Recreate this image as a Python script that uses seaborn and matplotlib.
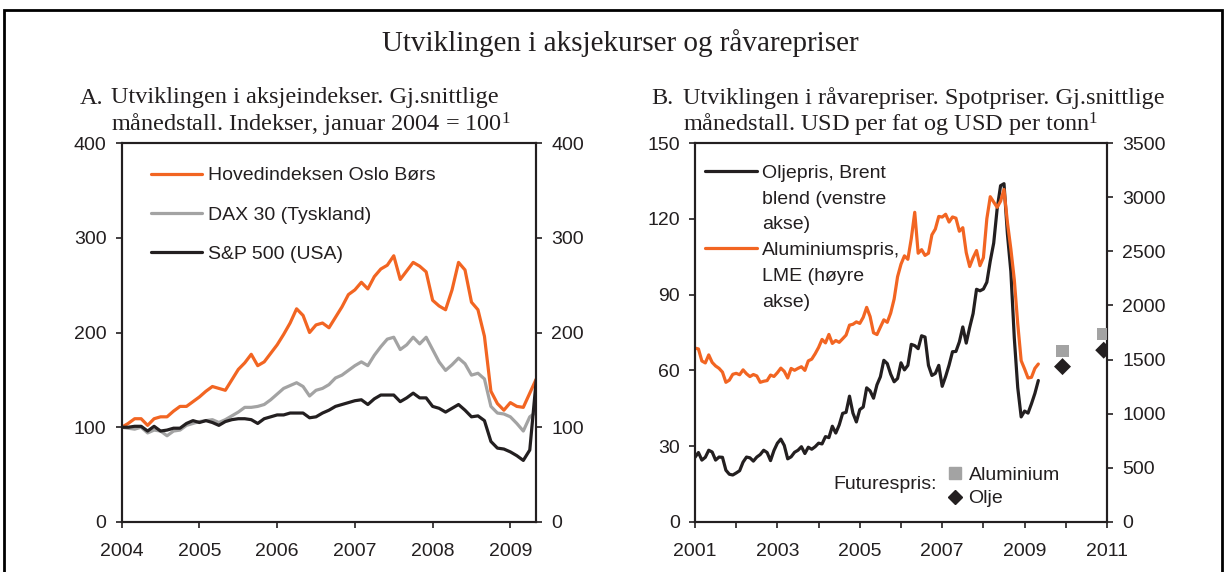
import numpy as np
import pandas as pd
import matplotlib
matplotlib.use("Agg")
import matplotlib.pyplot as plt
import seaborn as sns
from matplotlib.lines import Line2D
from matplotlib.patches import Rectangle

# ---------------- data ----------------
# Panel A: monthly, Jan 2004 - May 2009, index Jan 2004 = 100
oslo = [100, 104, 109, 109, 102, 109, 111, 111, 117, 122, 122, 127,
        132, 138, 143, 141, 139, 150, 161, 168, 177, 165, 169, 178,
        187, 198, 210, 225, 218, 200, 208, 210, 205, 216, 227, 240,
        245, 253, 246, 259, 267, 271, 281, 256, 265, 274, 270, 264,
        234, 228, 224, 245, 274, 266, 232, 224, 196, 138, 125, 118,
        126, 122, 121, 136, 151]
dax = [100, 99, 98, 100, 94, 97, 96, 91, 96, 97, 102, 104,
       106, 107, 108, 105, 108, 112, 116, 121, 121, 122, 124, 129,
       135, 141, 144, 147, 143, 133, 139, 141, 145, 152, 155, 160,
       165, 169, 165, 176, 185, 193, 195, 182, 187, 195, 188, 195,
       182, 169, 160, 166, 173, 167, 155, 157, 151, 122, 115, 114,
       111, 104, 96, 111, 116]
sp500 = [100, 100, 101, 101, 96, 101, 96, 97, 99, 99, 104, 107,
         105, 107, 105, 102, 106, 108, 109, 109, 108, 104, 109, 111,
         113, 113, 115, 115, 115, 110, 111, 115, 118, 122, 124, 126,
         128, 129, 124, 130, 134, 134, 134, 127, 131, 136, 131, 131,
         122, 120, 116, 120, 124, 118, 111, 112, 107, 85, 78, 77,
         74, 70, 65, 76, 150]
years_a = [2004, 2005, 2006, 2007, 2008, 2009]
yticks_a = [0, 100, 200, 300, 400]

# Panel B: monthly, Jan 2001 - May 2009
brent = [25.6, 27.5, 24.5, 25.6, 28.4, 27.7, 24.5, 25.7, 25.6, 20.5, 18.9, 18.6,
         19.4, 20.3, 23.7, 25.7, 25.4, 24.1, 25.7, 26.7, 28.4, 27.5, 24.3, 28.3,
         31.2, 32.8, 30.3, 25.0, 25.8, 27.6, 28.4, 29.8, 27.1, 29.6, 28.8, 29.8,
         31.2, 30.9, 33.8, 33.4, 37.9, 35.2, 38.4, 43.0, 43.4, 49.8, 43.1, 39.6,
         44.5, 45.5, 53.1, 51.9, 49.0, 54.3, 57.5, 64.0, 62.7, 58.5, 55.5, 56.8,
         63.0, 60.2, 62.0, 70.3, 69.8, 68.6, 73.7, 73.2, 62.0, 58.0, 58.8, 62.0,
         53.7, 57.6, 62.1, 67.4, 67.5, 71.3, 77.2, 70.8, 77.0, 82.5, 92.1, 91.5,
         92.2, 94.9, 103.3, 110.4, 123.9, 133.1, 133.9, 113.9, 99.1, 72.8, 53.2, 41.6,
         43.9, 43.1, 46.8, 50.9, 56.0]
aluminium = [1606, 1598, 1487, 1469, 1543, 1474, 1441, 1419, 1384, 1290, 1310, 1364,
             1373, 1360, 1405, 1369, 1343, 1362, 1349, 1290, 1300, 1306, 1357, 1344,
             1379, 1421, 1391, 1330, 1418, 1401, 1419, 1434, 1400, 1488, 1504, 1554,
             1612, 1686, 1654, 1732, 1649, 1676, 1659, 1692, 1726, 1818, 1826, 1848,
             1834, 1890, 1982, 1897, 1747, 1731, 1800, 1867, 1844, 1930, 2059, 2265,
             2381, 2458, 2426, 2618, 2860, 2482, 2515, 2462, 2482, 2652, 2705, 2822,
             2816, 2842, 2770, 2817, 2806, 2685, 2718, 2488, 2359, 2441, 2507, 2367,
             2441, 2800, 3004, 2955, 2906, 2962, 3071, 2766, 2520, 2238, 1831, 1490,
             1413, 1330, 1336, 1419, 1459]
fut_t = [2009.92, 2010.92]
fut_oil = [61.5, 68.0]
fut_alu = [1580, 1736]
years_b = list(range(2001, 2012))
yticks_b_left = [0, 30, 60, 90, 120, 150]
yticks_b_right = [0, 500, 1000, 1500, 2000, 2500, 3000, 3500]

ORANGE = "#f26522"
GREY = "#a3a3a3"
BLACK = "#231f20"

# ---------------- style ----------------
sns.set_style("ticks")
plt.rcParams['font.family'] = ['Liberation Sans', 'DejaVu Sans']
plt.rcParams['axes.edgecolor'] = BLACK
plt.rcParams['axes.linewidth'] = 1.5
plt.rcParams['text.color'] = BLACK
plt.rcParams['mathtext.fontset'] = 'custom'
plt.rcParams['mathtext.rm'] = 'Liberation Serif'
plt.rcParams['mathtext.it'] = 'Liberation Serif:italic'
plt.rcParams['mathtext.bf'] = 'Liberation Serif:bold'
FS = 14
SERIF = ['Liberation Serif', 'DejaVu Serif']
SUB = 17.5

W, H = 1228, 572
fig = plt.figure(figsize=(W / 100, H / 100), dpi=100)


def fx(px):
    return px / W


def fy(py):
    return 1 - py / H


def style_axis(ax):
    ax.tick_params(direction='out', length=4, width=1.2, labelsize=FS,
                   pad=7, color=BLACK, labelcolor=BLACK)
    ax.tick_params(axis='x', pad=11)
    for s in ax.spines.values():
        s.set_linewidth(1.5)
        s.set_color(BLACK)


# ---------------- Panel A ----------------
axA = fig.add_axes([fx(121.7), fy(522), fx(536 - 121.7), 379 / H])
tA = 2004 + np.arange(len(oslo)) / 12
dfA = pd.DataFrame({'t': tA, 'Hovedindeksen Oslo Børs': oslo,
                    'DAX 30 (Tyskland)': dax, 'S&P 500 (USA)': sp500})
for name, col in [('Hovedindeksen Oslo Børs', ORANGE),
                  ('DAX 30 (Tyskland)', GREY),
                  ('S&P 500 (USA)', BLACK)]:
    sns.lineplot(data=dfA, x='t', y=name, color=col, lw=2.3, ax=axA, label=name)
axA.set_xlim(2004, 2009.33)
axA.set_ylim(0, 400)
axA.set_xticks(years_a)
axA.set_xticklabels([str(y) for y in years_a])
axA.set_yticks(yticks_a)
axA.set_xlabel('')
axA.set_ylabel('')
style_axis(axA)
axA.legend(loc='upper left', bbox_to_anchor=(0.07, 0.937), frameon=False,
           fontsize=FS, handlelength=2.63, handletextpad=0.3, labelspacing=1.11,
           borderpad=0, borderaxespad=0)
axA2 = axA.twinx()
axA2.set_ylim(0, 400)
axA2.set_yticks(yticks_a)
style_axis(axA2)

# ---------------- Panel B ----------------
axB = fig.add_axes([fx(695), fy(522), fx(1107 - 695), 379 / H])
tB = 2001 + np.arange(len(brent)) / 12
dfB = pd.DataFrame({'t': tB, 'olje': brent, 'alu': aluminium})
dfF = pd.DataFrame({'t': fut_t, 'olje': fut_oil, 'alu': fut_alu})
sns.lineplot(data=dfB, x='t', y='olje', color=BLACK, lw=2.3, ax=axB, legend=False)
sns.scatterplot(data=dfF, x='t', y='olje', color=BLACK, marker='D', s=75,
                edgecolor='none', ax=axB, legend=False, zorder=5)
axB.set_xlim(2001, 2011)
axB.set_ylim(0, 150)
axB.set_xticks(years_b)
axB.set_xticklabels([str(y) if y % 2 == 1 else '' for y in years_b])
axB.set_yticks(yticks_b_left)
axB.set_xlabel('')
axB.set_ylabel('')
style_axis(axB)

axB2 = axB.twinx()
sns.lineplot(data=dfB, x='t', y='alu', color=ORANGE, lw=2.3, ax=axB2, legend=False)
sns.scatterplot(data=dfF, x='t', y='alu', color=GREY, marker='s', s=85,
                edgecolor='none', ax=axB2, legend=False, zorder=5)
axB2.set_ylim(0, 3500)
axB2.set_yticks(yticks_b_right)
axB2.set_ylabel('')
axB2.set_xlim(2001, 2011)
style_axis(axB2)

none = Line2D([], [], color='none')
hB = [Line2D([], [], color=BLACK, lw=2.3), none, none,
      Line2D([], [], color=ORANGE, lw=2.3), none, none]
lB = ['Oljepris, Brent', 'blend (venstre', 'akse)',
      'Aluminiumspris,', 'LME (høyre', 'akse)']
legB = axB2.legend(hB, lB, loc='upper left', bbox_to_anchor=(0.024, 0.944),
                   frameon=False, fontsize=FS, handlelength=2.68,
                   handletextpad=0.26, labelspacing=0.42, borderpad=0,
                   borderaxespad=0)
axB2.add_artist(legB)
hF = [Line2D([], [], marker='s', ls='none', color=GREY, markersize=8),
      Line2D([], [], marker='D', ls='none', color=BLACK, markersize=7)]
axB2.legend(hF, ['Aluminium', 'Olje'], loc='upper left',
            bbox_to_anchor=(0.612, 0.148), frameon=False, fontsize=FS,
            handlelength=0.8, handletextpad=0.3, labelspacing=0.32,
            borderpad=0, borderaxespad=0)
axB.text(0.587, 0.098, 'Futurespris:', transform=axB.transAxes,
         ha='right', va='center', fontsize=FS, color=BLACK)

# ---------------- titles & frame ----------------
fig.text(0.505, fy(43), 'Utviklingen i aksjekurser og råvarepriser',
         ha='center', va='center', fontsize=21, family=SERIF, color=BLACK)
fig.text(fx(80), fy(98), 'A.', va='center', fontsize=SUB, family=SERIF)
fig.text(fx(111), fy(98), 'Utviklingen i aksjeindekser. Gj.snittlige',
         va='center', fontsize=SUB, family=SERIF)
fig.text(fx(111), fy(125), r'månedstall. Indekser, januar 2004 = 100$^{\mathrm{1}}$',
         va='center', fontsize=SUB, family=SERIF)
fig.text(fx(651), fy(98), 'B.', va='center', fontsize=SUB, family=SERIF)
fig.text(fx(683), fy(98), 'Utviklingen i råvarepriser. Spotpriser. Gj.snittlige',
         va='center', fontsize=SUB, family=SERIF)
fig.text(fx(683), fy(125), r'månedstall. USD per fat og USD per tonn$^{\mathrm{1}}$',
         va='center', fontsize=SUB, family=SERIF)

fig.patches.append(Rectangle((fx(4), -0.05), fx(1222 - 4), fy(10) + 0.05,
                             transform=fig.transFigure, fill=False,
                             lw=2, ec='black'))

fig.savefig('out.png', dpi=100)
